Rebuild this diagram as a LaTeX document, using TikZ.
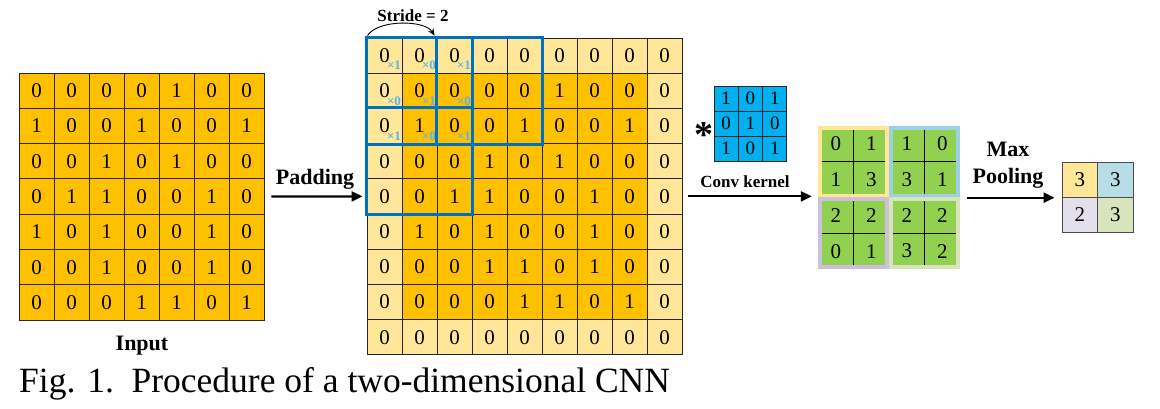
\documentclass[tikz,border=0pt]{standalone}
\usepackage{fontspec}
\setmainfont{Liberation Serif}
\usetikzlibrary{arrows.meta,calc}
\definecolor{padc}{HTML}{FFE699}
\definecolor{inc}{HTML}{FFC000}
\definecolor{grn}{HTML}{92D050}
\definecolor{kc}{HTML}{00B0F0}
\definecolor{bb}{HTML}{0070C0}
\definecolor{kl}{HTML}{5BB5E0}
\definecolor{qy}{HTML}{FFE699}
\definecolor{qb}{HTML}{9DD0E3}
\definecolor{qp}{HTML}{CCC0DA}
\definecolor{qg}{HTML}{D8E4BC}
\definecolor{pb}{HTML}{B7DEE8}
\definecolor{pp}{HTML}{E4DFEC}
\definecolor{pg}{HTML}{D8E4BC}
\tikzset{
  gridcell/.style={draw=black!85, line width=0.9pt, inner sep=0pt, font=\fontsize{21}{21}\selectfont},
  incell/.style={gridcell, fill=inc, minimum width=35pt, minimum height=35.3pt},
  padcell/.style={gridcell, minimum width=35pt, minimum height=35.2pt},
  kcell/.style={gridcell, fill=kc, minimum width=24.3pt, minimum height=25pt, font=\fontsize{19}{19}\selectfont},
  ocell/.style={inner sep=0pt, fill=grn, minimum width=35.5pt, minimum height=35.75pt, font=\fontsize{21}{21}\selectfont},
  pcell/.style={draw=black!70, line width=0.9pt, inner sep=0pt, minimum width=35.5pt, minimum height=35pt, font=\fontsize{21}{21}\selectfont},
  bluebox/.style={draw=bb, line width=3pt},
  klab/.style={text=kl, inner sep=0pt, font=\bfseries\fontsize{13}{13}\selectfont},
  olines/.style={draw=black, line width=1pt},
  qborder/.style={line width=4pt},
  bigarrow/.style={draw=black, line width=2.2pt, -{Triangle[length=11pt,width=10pt]}},
  stridearr/.style={draw=black, line width=0.9pt, -{Stealth[length=7pt,width=6pt]}},
  lblbig/.style={inner sep=0pt, anchor=base, font=\bfseries\fontsize{22}{22}\selectfont},
  lblsm/.style={inner sep=0pt, anchor=base, font=\bfseries\fontsize{17}{17}\selectfont},
}
\begin{document}
\begin{tikzpicture}[x=1pt,y=-1pt]
\useasboundingbox[fill=white] (0,0) rectangle (1160,409);
% ---------------- input grid
\foreach \row [count=\r from 0] in {{0,0,0,0,1,0,0},{1,0,0,1,0,0,1},{0,0,1,0,1,0,0},{0,1,1,0,0,1,0},{1,0,1,0,0,1,0},{0,0,1,0,0,1,0},{0,0,0,1,1,0,1}}{
  \foreach \v [count=\c from 0] in \row {
    \node[incell] (in-\r-\c) at ({19+35*(\c+0.5)},{73+35.3*(\r+0.5)}) {\v};
  }
}
\node[lblbig] (inlbl) at (142,350) {Input};
% ---------------- padded grid
\foreach \row [count=\r from 0] in {{0,0,0,0,0,0,0,0,0},{0,0,0,0,0,1,0,0,0},{0,1,0,0,1,0,0,1,0},{0,0,0,1,0,1,0,0,0},{0,0,1,1,0,0,1,0,0},{0,1,0,1,0,0,1,0,0},{0,0,0,1,1,0,1,0,0},{0,0,0,0,1,1,0,1,0},{0,0,0,0,0,0,0,0,0}}{
  \foreach \v [count=\c from 0] in \row {
    \pgfmathtruncatemacro\pad{(\r==0)||(\r==8)||(\c==0)||(\c==8)}
    \ifnum\pad=1 \colorlet{cf}{padc}\else\colorlet{cf}{inc}\fi
    \node[padcell, fill=cf] (pd-\r-\c) at ({367+35*(\c+0.5)},{38+35.2*(\r+0.5)}) {\v};
  }
}
% kernel multipliers
\foreach \row [count=\r from 0] in {{1,0,1},{0,1,0},{1,0,1}}{
  \foreach \v [count=\c from 0] in \row {
    \node[klab] (kl-\r-\c) at ([xshift=9.5pt,yshift=-10pt]pd-\r-\c.center) {×\v};
  }
}
% stride windows
\draw[bluebox] (pd-0-0.north west) rectangle (pd-2-2.south east);
\draw[bluebox] (pd-0-2.north west) rectangle (pd-2-4.south east);
\draw[bluebox] (pd-2-0.north west) rectangle (pd-4-2.south east);
% stride arrow
\draw[stridearr] ([xshift=1pt,yshift=2pt]pd-0-0.north west) .. controls +(10pt,16pt) and +(-10pt,16pt) .. ([xshift=-2pt,yshift=2pt]pd-0-2.north west);
\node[lblsm] (stlbl) at (413,22) {Stride = 2};
% padding arrow
\draw[bigarrow] ([xshift=7pt]in-3-6.east) -- ([xshift=-4pt]pd-4-0.west);
\node[lblbig] (padlbl) at (315,185) {Padding};
% ---------------- kernel
\foreach \row [count=\r from 0] in {{1,0,1},{0,1,0},{1,0,1}}{
  \foreach \v [count=\c from 0] in \row {
    \node[kcell] (k-\r-\c) at ({714+24.3*(\c+0.5)},{86+25*(\r+0.5)}) {\v};
  }
}
\node[inner sep=0pt, font=\bfseries\fontsize{38}{38}\selectfont] (star) at (704,135) {*};
\node[lblsm] (cklbl) at (745,187) {Conv kernel};
% ---------------- output feature map
\foreach \row [count=\r from 0] in {{0,1,1,0},{1,3,3,1},{2,2,2,2},{0,1,3,2}}{
  \foreach \v [count=\c from 0] in \row {
    \node[ocell] (o-\r-\c) at ({818+35.5*(\c+0.5)},{126+35.75*(\r+0.5)}) {\v};
  }
}
\draw[olines] (o-0-0.north east) -- (o-1-0.south east) (o-0-0.south west) -- (o-0-1.south east);
\draw[olines] (o-0-2.north east) -- (o-1-2.south east) (o-0-2.south west) -- (o-0-3.south east);
\draw[olines] (o-2-0.north east) -- (o-3-0.south east) (o-2-0.south west) -- (o-2-1.south east);
\draw[olines] (o-2-2.north east) -- (o-3-2.south east) (o-2-2.south west) -- (o-2-3.south east);
\draw[qborder, qy] ([shift={(2pt,-2pt)}]o-0-0.north west) rectangle ([shift={(-2pt,2pt)}]o-1-1.south east);
\draw[qborder, qb] ([shift={(2pt,-2pt)}]o-0-2.north west) rectangle ([shift={(-2pt,2pt)}]o-1-3.south east);
\draw[qborder, qp] ([shift={(2pt,-2pt)}]o-2-0.north west) rectangle ([shift={(-2pt,2pt)}]o-3-1.south east);
\draw[qborder, qg] ([shift={(2pt,-2pt)}]o-2-2.north west) rectangle ([shift={(-2pt,2pt)}]o-3-3.south east);
% conv arrow
\draw[bigarrow] ([xshift=6pt]pd-4-8.east) -- ($(pd-4-8.east -| o-1-0.south west)+(-6,0)$);
% ---------------- pooling
\node[pcell, fill=qy] (p-0-0) at ({1062+35.5*0.5},{162+35*0.5}) {3};
\node[pcell, fill=pb] (p-0-1) at ({1062+35.5*1.5},{162+35*0.5}) {3};
\node[pcell, fill=pp] (p-1-0) at ({1062+35.5*0.5},{162+35*1.5}) {2};
\node[pcell, fill=pg] (p-1-1) at ({1062+35.5*1.5},{162+35*1.5}) {3};
\draw[bigarrow] ($(o-1-3.south east)+(7,0)$) -- ($(o-1-3.south east -| p-1-0.west)+(-7,0)$);
\node[lblbig] (mxlbl) at (1008,157) {Max};
\node[lblbig] (pllbl) at (1008,183) {Pooling};
% ---------------- caption
\node[inner sep=0pt, anchor=base west, font=\fontsize{35.5}{35.5}\selectfont] (cap) at (19,392) {Fig. 1.\hspace{0.5em}Procedure of a two-dimensional CNN};
\end{tikzpicture}
\end{document}
